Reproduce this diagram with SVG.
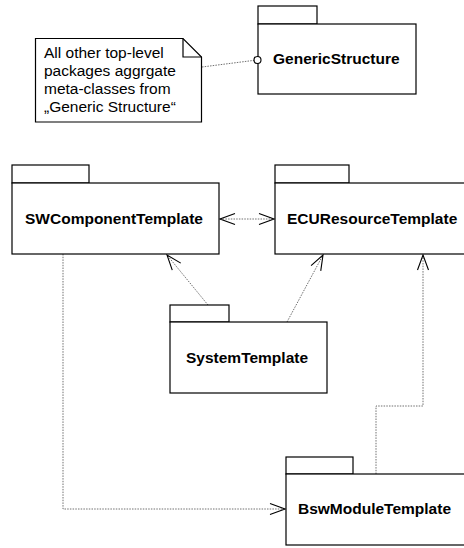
<svg xmlns="http://www.w3.org/2000/svg" width="464" height="548" viewBox="0 0 464 548">
  <style>
    .box { fill: #fff; stroke: #000; stroke-width: 1.2; }
    .tab { fill: #fff; stroke: #000; stroke-width: 1.2; }
    .name { font-family: "Liberation Sans", Arial, sans-serif; font-size: 15.5px; font-weight: bold; fill: #000; }
    .note { font-family: "Liberation Sans", Arial, sans-serif; font-size: 15.5px; fill: #000; }
    .dep { fill: none; stroke: #707070; stroke-width: 1; stroke-dasharray: 1.5 1.2; }
  </style>
  <defs>
    <marker id="open" viewBox="-16 -7 17 14" refX="0" refY="0" markerWidth="17" markerHeight="14" markerUnits="userSpaceOnUse" orient="auto-start-reverse">
      <path d="M -15 -5.5 L 0 0 L -15 5.5" fill="none" stroke="#000" stroke-width="1.1"/>
    </marker>
  </defs>

  <!-- connectors -->
  <g id="connectors">
    <line class="dep" x1="202" y1="67" x2="254.5" y2="60.3"/>
    <line class="dep" x1="220" y1="219" x2="274" y2="219" marker-start="url(#open)" marker-end="url(#open)"/>
    <line class="dep" x1="208" y1="305" x2="167" y2="255" marker-end="url(#open)"/>
    <line class="dep" x1="287" y1="322" x2="323" y2="255" marker-end="url(#open)"/>
    <polyline class="dep" points="63,254 63,509 285,509" marker-end="url(#open)"/>
    <polyline class="dep" points="376,474 376,406 423,406 423,255" marker-end="url(#open)"/>
  </g>

  <!-- comment note -->
  <g id="note">
    <path class="box" d="M 35.5 38.5 L 183 38.5 L 201.5 57 L 201.5 122 L 35.5 122 Z"/>
    <path d="M 183 38.5 L 183 57 L 201.5 57" fill="none" stroke="#000" stroke-width="1.2"/>
    <text class="note" x="44" y="57.5">All other top-level</text>
    <text class="note" x="44" y="75.5">packages aggrgate</text>
    <text class="note" x="44" y="93.5">meta-classes from</text>
    <text class="note" x="44" y="111.5">„Generic Structure“</text>
  </g>

  <g id="GenericStructure">
    <rect class="tab" x="258" y="6" width="59" height="18"/>
    <rect class="box" x="258" y="24" width="158" height="70"/>
    <text class="name" x="273" y="64">GenericStructure</text>
    <circle cx="257.5" cy="60" r="3.5" fill="#fff" stroke="#000" stroke-width="1.1"/>
  </g>

  <g id="SWComponentTemplate">
    <rect class="tab" x="12" y="165" width="77" height="18"/>
    <rect class="box" x="12" y="183" width="207" height="71"/>
    <text class="name" x="25" y="224">SWComponentTemplate</text>
  </g>

  <g id="ECUResourceTemplate">
    <rect class="tab" x="275" y="165" width="74" height="18"/>
    <rect class="box" x="275" y="183" width="200" height="71"/>
    <text class="name" x="287" y="224">ECUResourceTemplate</text>
  </g>

  <g id="SystemTemplate">
    <rect class="tab" x="170" y="305" width="59" height="17"/>
    <rect class="box" x="170" y="322" width="157" height="71"/>
    <text class="name" x="186" y="363">SystemTemplate</text>
  </g>

  <g id="BswModuleTemplate">
    <rect class="tab" x="286" y="457" width="67" height="17"/>
    <rect class="box" x="286" y="474" width="190" height="71"/>
    <text class="name" x="298" y="514">BswModuleTemplate</text>
  </g>
</svg>
